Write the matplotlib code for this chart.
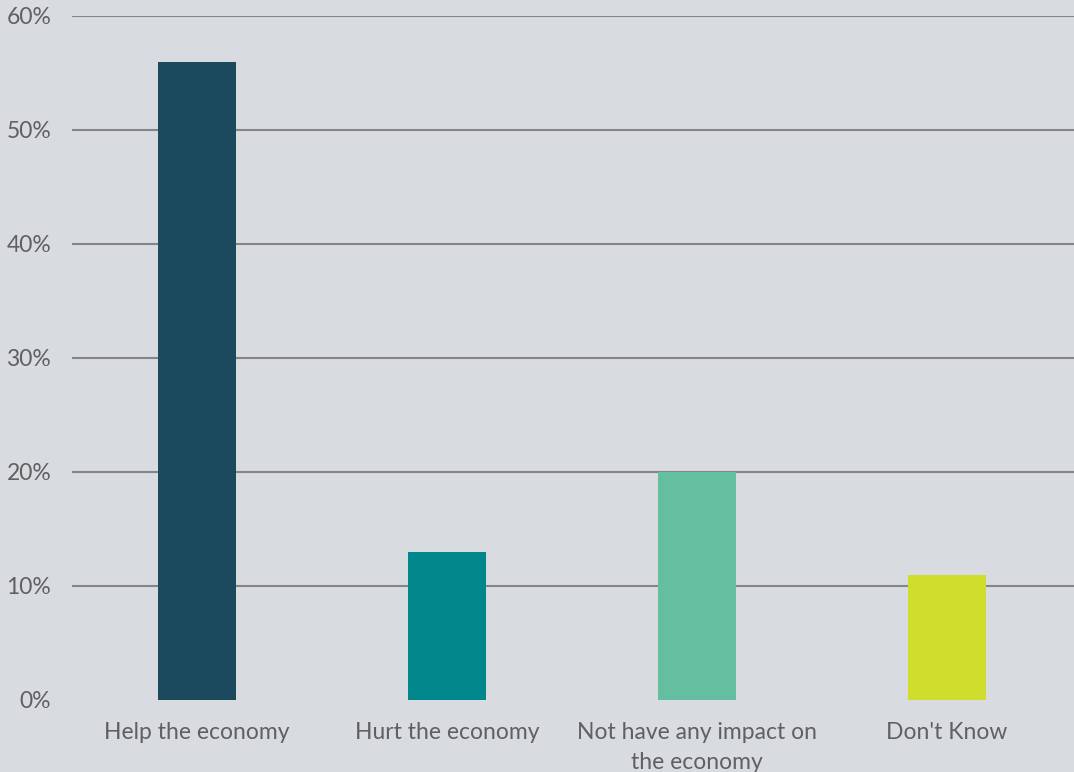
import matplotlib.pyplot as plt
from matplotlib.ticker import FuncFormatter

# survey answers
categories = ['Help the economy', 'Hurt the economy', 'Not have any impact on\nthe economy', "Don't Know"]
values = [56, 13, 20, 11]
colors = ['#1b4a5e', '#00868b', '#63bfa0', '#cfdd2c']

plt.rcParams['font.family'] = ['Lato', 'DejaVu Sans']

bg = '#d8dbdf'
fig = plt.figure(figsize=(10.74, 7.72), dpi=100, facecolor=bg)
ax = fig.add_axes([72 / 1074, 72 / 772, 1002 / 1074, 684 / 772], facecolor=bg)

x = range(len(categories))
ax.bar(x, values, width=0.312, color=colors, zorder=3)

ax.set_ylim(0, 60)
ax.set_xlim(-0.5, 3.508)
ax.set_yticks(range(0, 61, 10))
ax.yaxis.set_major_formatter(FuncFormatter(lambda v, p: '%d%%' % v))
# gridlines from 10% up, the baseline is only faint
for v in range(10, 61, 10):
    ax.axhline(v, color='#858585', linewidth=1.5, zorder=0)
ax.axhline(0, color='#d0d3d6', linewidth=1, zorder=0)
ax.set_xticks(list(x))
ax.set_xticklabels(categories, fontsize=16.5, color='#606060', linespacing=1.5)
ax.tick_params(axis='y', labelsize=16.5, labelcolor='#606060', length=0, pad=15)
ax.tick_params(axis='x', length=0, pad=16)
for s in ax.spines.values():
    s.set_visible(False)

fig.savefig('out.png', dpi=100, facecolor=bg)
